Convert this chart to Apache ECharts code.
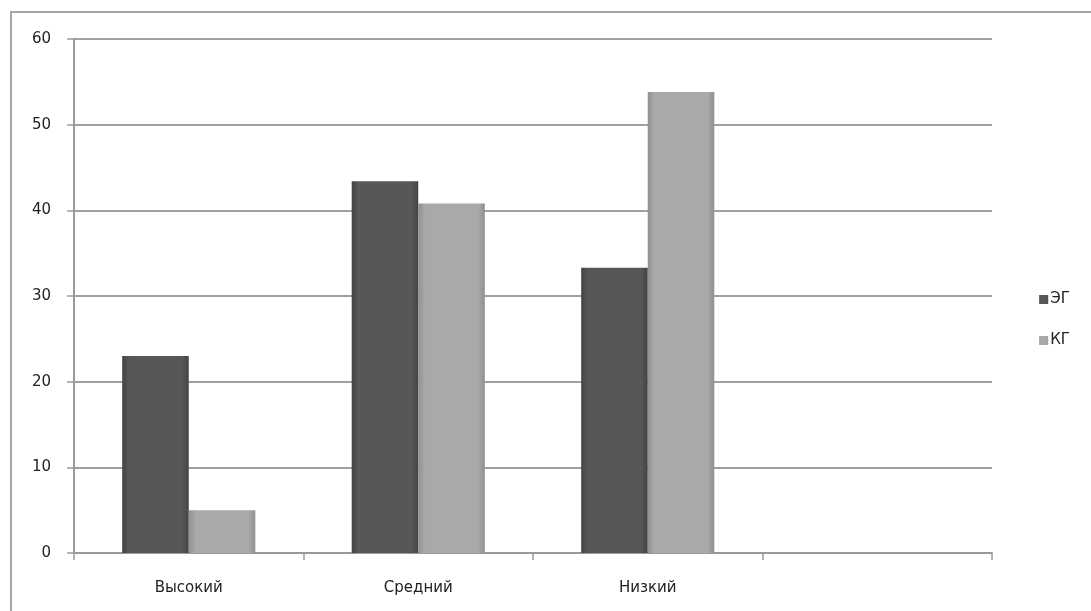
<!DOCTYPE html>
<html>
<head>
<meta charset="utf-8">
<script src="https://cdn.jsdelivr.net/npm/echarts@6/dist/echarts.min.js"></script>
<style>
  html, body { margin: 0; padding: 0; background: #fff; }
  #chart { width: 1091px; height: 611px; }
</style>
</head>
<body>
<div id="chart"></div>
<script>
const categories = ['Высокий', 'Средний', 'Низкий', ''];
const seriesNames = ['ЭГ', 'КГ'];
const egValues = [23, 43.4, 33.3, null];
const kgValues = [5, 40.8, 53.8, null];

const FONT = '"DejaVu Sans", sans-serif';

// horizontal shading to mimic the bevelled Excel bars
function barGradient(edge, mid) {
  return new echarts.graphic.LinearGradient(0, 0, 1, 0, [
    { offset: 0, color: edge },
    { offset: 0.1, color: mid },
    { offset: 0.9, color: mid },
    { offset: 1, color: edge }
  ]);
}

const chart = echarts.init(document.getElementById('chart'));

chart.setOption({
  backgroundColor: '#ffffff',
  animation: false,
  grid: { left: 74, right: 99, top: 39, bottom: 58 },
  legend: {
    orient: 'vertical',
    right: 16,
    top: 287,
    itemWidth: 9,
    itemHeight: 9,
    itemGap: 26,
    icon: 'rect',
    textStyle: { fontFamily: FONT, fontSize: 15, color: '#222', padding: [0, 0, 0, -3] },
    data: seriesNames
  },
  xAxis: {
    type: 'category',
    data: categories,
    axisLine: { lineStyle: { color: '#9a9a9a', width: 2 } },
    axisTick: { show: true, length: 7, lineStyle: { color: '#9a9a9a', width: 1.5 } },
    axisLabel: { fontFamily: FONT, fontSize: 15, color: '#222', margin: 28 },
    splitLine: { show: false }
  },
  yAxis: {
    type: 'value',
    min: 0,
    max: 60,
    interval: 10,
    axisLine: { show: true, lineStyle: { color: '#9a9a9a', width: 2 } },
    axisTick: { show: true, length: 7, lineStyle: { color: '#9a9a9a', width: 1.5 } },
    axisLabel: { fontFamily: FONT, fontSize: 15, color: '#222', margin: 23 },
    splitLine: { lineStyle: { color: '#a0a0a0', width: 2 } }
  },
  series: [
    {
      name: seriesNames[0],
      type: 'bar',
      data: egValues,
      barGap: '0%',
      barCategoryGap: '42%',
      itemStyle: { color: barGradient('#434343', '#575757') }
    },
    {
      name: seriesNames[1],
      type: 'bar',
      data: kgValues,
      itemStyle: { color: barGradient('#8f8f8f', '#a9a9a9') }
    }
  ],
  graphic: [
    {
      type: 'rect',
      silent: true,
      shape: { x: 11, y: 12, width: 1200, height: 700 },
      style: { fill: null, stroke: '#a6a6a6', lineWidth: 2 }
    }
  ]
});
</script>
</body>
</html>
